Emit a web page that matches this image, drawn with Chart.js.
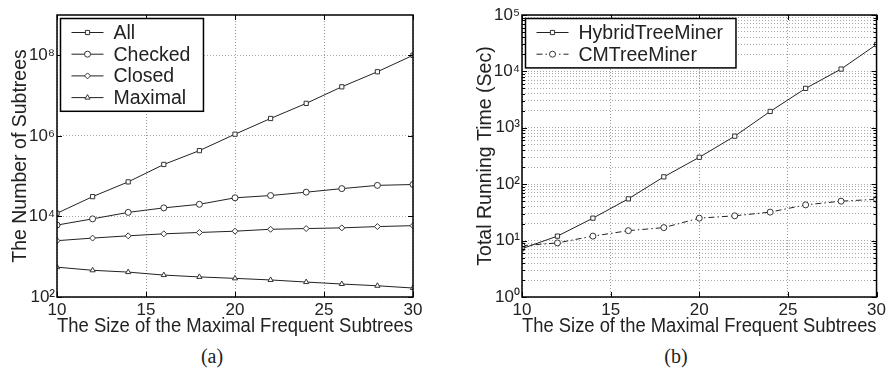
<!DOCTYPE html>
<html>
<head>
<meta charset="utf-8">
<script src="https://cdn.jsdelivr.net/npm/chart.js@4/dist/chart.umd.min.js"></script>
<style>
  body { margin: 0; background: #fff; width: 889px; height: 373px; overflow: hidden; position: relative; }
  .panel { position: absolute; top: 0; }
  .cap { position: absolute; top: 345px; width: 60px; text-align: center; font-family: "Liberation Serif", serif; font-size: 20px; color: #222; }
</style>
</head>
<body>
<div class="panel" style="left:0"><canvas id="chartA" width="445" height="345"></canvas></div>
<div class="panel" style="left:445px"><canvas id="chartB" width="444" height="345"></canvas></div>
<div class="cap" style="left:182px">(a)</div>
<div class="cap" style="left:646px">(b)</div>
<script>
// data
const sizes = [10, 12, 14, 16, 18, 20, 22, 24, 26, 28, 30];
const allCounts = [1.2e4, 3.1e4, 7.2e4, 1.95e5, 4.3e5, 1.1e6, 2.7e6, 6.4e6, 1.65e7, 3.9e7, 1.0e8];
const checkedCounts = [6.1e3, 8.7e3, 1.26e4, 1.63e4, 2.0e4, 2.9e4, 3.3e4, 4.0e4, 4.9e4, 5.9e4, 6.2e4];
const closedCounts = [2.5e3, 2.9e3, 3.3e3, 3.7e3, 4.0e3, 4.3e3, 4.8e3, 5.0e3, 5.2e3, 5.6e3, 5.9e3];
const maximalCounts = [550, 460, 415, 350, 315, 290, 265, 235, 210, 190, 167];
const hybridTimes = [7.2, 12, 25, 55, 135, 300, 710, 1950, 5000, 1.1e4, 3.0e4];
const cmTimes = [8.1, 9.1, 12, 15, 17, 25, 27.5, 32, 43, 50, 54];

const xTicks = [10, 15, 20, 25, 30];
const yTicksA = [1e2, 1e4, 1e6, 1e8];
const yTicksB = [];
for (let e = 0; e < 5; e++) for (let m = 1; m < 10; m++) yTicksB.push(m * Math.pow(10, e));
yTicksB.push(1e5);

const xTitle = 'The Size of the Maximal Frequent Subtrees';
const SANS = '"Liberation Sans", Arial, sans-serif';
const INK = '#222';

const supers = ['⁰', '¹', '²', '³', '⁴', '⁵', '⁶', '⁷', '⁸', '⁹'];
function powLabel(v) {
    const e = Math.round(Math.log10(v));
    if (Math.abs(Math.log10(v) - e) > 1e-9) return '';
    return '10' + supers[e];
}

function series(label, values, style, dash) {
    return {
        label: label,
        data: sizes.map((s, i) => ({ x: s, y: values[i] })),
        borderColor: INK,
        borderWidth: 1,
        borderDash: dash || [],
        pointStyle: style,
        pointRadius: 3,
        pointBorderWidth: 1,
        pointBorderColor: '#333',
        pointBackgroundColor: '#fff',
        tension: 0
    };
}

// box around the plot, inward tick marks and the legend inside the axes
const framePlugin = {
    id: 'frame',
    afterDatasetsDraw(chart) {
        const ctx = chart.ctx;
        const a = chart.chartArea;
        const xs = chart.scales.x, ys = chart.scales.y;
        ctx.save();
        ctx.strokeStyle = '#000';
        ctx.lineWidth = 1;
        ctx.beginPath();
        xs.ticks.forEach(t => {
            const px = Math.round(xs.getPixelForValue(t.value)) + 0.5;
            ctx.moveTo(px, a.bottom); ctx.lineTo(px, a.bottom - 5);
            ctx.moveTo(px, a.top); ctx.lineTo(px, a.top + 5);
        });
        ys.ticks.forEach(t => {
            const py = Math.round(ys.getPixelForValue(t.value)) + 0.5;
            const len = powLabel(t.value) ? 5 : 3;
            ctx.moveTo(a.left, py); ctx.lineTo(a.left + len, py);
            ctx.moveTo(a.right, py); ctx.lineTo(a.right - len, py);
        });
        ctx.stroke();
        ctx.lineWidth = 1.5;
        ctx.strokeRect(a.left, a.top, a.right - a.left, a.bottom - a.top);

        // legend
        const sets = chart.data.datasets;
        ctx.font = '19.5px ' + SANS;
        let tw = 0;
        sets.forEach(d => { tw = Math.max(tw, ctx.measureText(d.label).width); });
        const bx = a.left + 3.5, by = a.top + 3.5;
        const bw = 53 + tw + 13, bh = sets.length * 21.7 + 6;
        ctx.fillStyle = '#fff';
        ctx.fillRect(bx, by, bw, bh);
        ctx.lineWidth = 1.5;
        ctx.strokeStyle = '#000';
        ctx.strokeRect(bx, by, bw, bh);
        sets.forEach((d, i) => {
            const cy = by + 14 + i * 21.7;
            ctx.lineWidth = 1;
            ctx.strokeStyle = INK;
            ctx.setLineDash(d.borderDash || []);
            ctx.beginPath();
            ctx.moveTo(bx + 11, cy); ctx.lineTo(bx + 43, cy);
            ctx.stroke();
            ctx.setLineDash([]);
            ctx.fillStyle = '#fff';
            ctx.strokeStyle = '#333';
            Chart.helpers.drawPoint(ctx, { pointStyle: d.pointStyle, radius: 3, borderWidth: 1, rotation: 0 }, bx + 27, cy);
            ctx.fillStyle = INK;
            ctx.textBaseline = 'middle';
            ctx.fillText(d.label, bx + 53, cy + 1);
        });
        ctx.restore();
    }
};

function makeChart(id, datasets, yMin, yMax, yTicks, yTitle, yWidth, yTitlePad, padRight) {
    return new Chart(document.getElementById(id), {
        type: 'line',
        data: { datasets: datasets },
        plugins: [framePlugin],
        options: {
            responsive: false,
            animation: false,
            layout: { padding: { top: 15, right: padRight, left: 0, bottom: 0 } },
            plugins: { legend: { display: false }, tooltip: { enabled: false } },
            scales: {
                x: {
                    type: 'linear',
                    min: 10, max: 30,
                    afterBuildTicks: s => { s.ticks = xTicks.map(v => ({ value: v })); },
                    afterFit: s => { s.height = 48; },
                    ticks: { color: INK, padding: 3, font: { family: SANS, size: 17 } },
                    grid: { color: '#999', lineWidth: 1, drawTicks: false },
                    border: { display: false, dash: [1, 2] },
                    title: { display: true, text: xTitle, color: INK, font: { family: SANS, size: 19.5 }, padding: { top: 0, bottom: 7 } }
                },
                y: {
                    type: 'logarithmic',
                    min: yMin, max: yMax,
                    afterBuildTicks: s => { s.ticks = yTicks.map(v => ({ value: v })); },
                    afterFit: s => { s.width = yWidth; },
                    ticks: { color: INK, padding: 2, autoSkip: false, font: { family: SANS, size: 17 }, callback: v => powLabel(v) },
                    grid: { color: '#aaa', lineWidth: 1, drawTicks: false },
                    border: { display: false, dash: [1, 2] },
                    title: { display: true, text: yTitle, color: INK, font: { family: SANS, size: 19.5 }, padding: { top: yTitlePad, bottom: 0 } }
                }
            }
        }
    });
}

makeChart('chartA', [
    series('All', allCounts, 'rect'),
    series('Checked', checkedCounts, 'circle'),
    series('Closed', closedCounts, 'rectRot'),
    series('Maximal', maximalCounts, 'triangle')
], 1e2, 1e9, yTicksA, 'The Number of Subtrees', 57, 9, 32);

makeChart('chartB', [
    series('HybridTreeMiner', hybridTimes, 'rect'),
    series('CMTreeMiner', cmTimes, 'circle', [6, 3, 1.5, 3])
], 1, 1e5, yTicksB, 'Total Running Time (Sec)', 77, 29, 11);
</script>
</body>
</html>
